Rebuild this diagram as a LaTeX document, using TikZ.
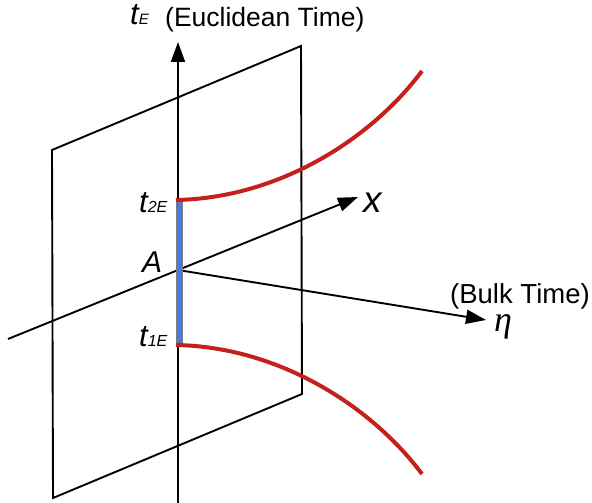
\documentclass[tikz,border=0pt]{standalone}
\usepackage{fontspec}
\setmainfont{Liberation Sans}
\newfontfamily\serifgreek{Liberation Serif}
\usetikzlibrary{arrows.meta}
\definecolor{curvered}{RGB}{196,32,28}
\definecolor{barblue}{RGB}{72,122,222}
\definecolor{bargray}{RGB}{125,125,125}
\begin{document}
\begin{tikzpicture}[x=1pt,y=-1pt,
  line/.style={black,line width=1.9pt},
  axis/.style={line,-{Triangle[length=20pt,width=14pt]}},
  hyp/.style={curvered,line width=4pt},
  lbl/.style={inner sep=0pt,anchor=base west}]
\useasboundingbox (0,0) rectangle (592,503);
% plane
\coordinate (P1) at (52,150);
\coordinate (P2) at (301,46);
\coordinate (P3) at (302,394);
\coordinate (P4) at (53,498);
\draw[line,line join=miter] (P1)--(P2)--(P3)--(P4)--cycle;
% axes
\coordinate (A) at (178,270);
\coordinate (tbot) at (178,503);
\coordinate (ttop) at (178,42);
\draw[axis] (tbot) -- (ttop);
\coordinate (xs) at (8,339);
\coordinate (xe) at (358,197);
\draw[axis] (xs) -- (xe);
\coordinate (ee) at (486,320);
\draw[axis] (A) -- (ee);
% blue interval
\node[draw=bargray,fill=barblue,line width=1.4pt,minimum width=6.5pt,minimum height=143pt,inner sep=0pt] (bar) at (179.5,272.5) {};
% red curves
\coordinate (u0) at (176,200);
\coordinate (u1) at (422,71);
\coordinate (l0) at (176,345);
\coordinate (l1) at (422,474);
\draw[hyp] (u0) .. controls (280,198) and (372,138) .. (u1);
\draw[hyp] (l0) .. controls (280,347) and (372,407) .. (l1);
% labels
\node[lbl] (tE) at (130,25) {\fontsize{31}{31}\selectfont\itshape t\fontsize{15}{15}\selectfont E};
\node[lbl] (eu) at (165,27) {\fontsize{26.5}{26.5}\selectfont (Euclidean Time)};
\node[lbl] (t2) at (139,212) {\fontsize{31}{31}\selectfont\itshape t\fontsize{16}{16}\selectfont 2E};
\node[lbl] (lA) at (142,272) {\fontsize{30}{30}\selectfont\itshape A};
\node[lbl] (t1) at (139,346) {\fontsize{31}{31}\selectfont\itshape t\fontsize{16}{16}\selectfont 1E};
\node[lbl] (lx) at (363,212) {\fontsize{37}{37}\selectfont\itshape x};
\node[lbl] (bt) at (450,303) {\fontsize{27.5}{27.5}\selectfont (Bulk Time)};
\node[lbl] (eta) at (494,331) {\fontsize{36}{36}\selectfont\serifgreek\itshape η};
\end{tikzpicture}
\end{document}
